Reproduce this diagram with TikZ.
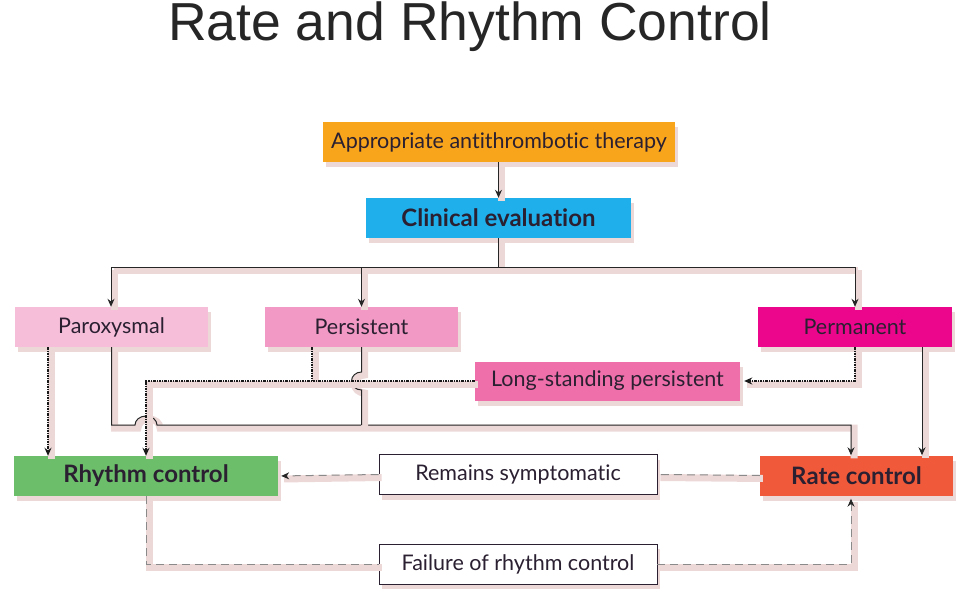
\documentclass[tikz,border=0pt]{standalone}
\usepackage{fontspec}
\setmainfont{Lato}[Ligatures={NoCommon}]
\newfontfamily\titlefont{Liberation Sans}
\usetikzlibrary{arrows.meta,shadows}
\definecolor{corange}{HTML}{F8A51B}
\definecolor{ccyan}{HTML}{1FB0EC}
\definecolor{cparox}{HTML}{F7BEDA}
\definecolor{cpers}{HTML}{F29AC5}
\definecolor{cperm}{HTML}{EC068C}
\definecolor{clong}{HTML}{EE6FAA}
\definecolor{cgreen}{HTML}{6DBE6B}
\definecolor{crate}{HTML}{F05A3B}
\definecolor{ctxt}{HTML}{2A2031}
\definecolor{bshadow}{HTML}{EDD8D8}
\definecolor{cdash}{HTML}{8A8A8A}
\tikzset{
  box/.style={draw=none, minimum height=40pt, inner sep=0pt, text=ctxt,
    font=\fontsize{21.5}{26}\selectfont,
    drop shadow={shadow xshift=3pt, shadow yshift=-5pt, fill=bshadow, opacity=1}},
  boldbox/.style={box, font=\fontsize{24}{28}\selectfont\bfseries},
  wbox/.style={box, fill=white, draw=ctxt, line width=0.8pt},
  lshadow/.style={preaction={draw=bshadow, line width=7pt, solid, arrows=-,
    transform canvas={xshift=3pt,yshift=-3pt}}},
  solidline/.style={draw=black!85, line width=1pt, lshadow},
  tip/.style={-{Stealth[length=8pt,width=7pt]}},
  dtip/.style={-{Stealth[length=8pt,width=7pt,color=black!85]}},
  dotline/.style={draw=black!90, line width=1.3pt, dash pattern=on 2.5pt off 1pt on 1pt off 1pt, lshadow},
  dashline/.style={draw=cdash, line width=1pt, dash pattern=on 8pt off 5pt, lshadow},
}
\begin{document}
\begin{tikzpicture}[x=1pt,y=-1pt]
\useasboundingbox (0,0) rectangle (959,599);
\node[font=\titlefont\fontsize{53.5}{60}\selectfont, text=black!85, anchor=base] (title) at (470,41) {Rate and Rhythm Control};

\node[box, fill=corange, minimum width=352pt] (ant) at (499,142) {Appropriate antithrombotic therapy};
\node[boldbox, fill=ccyan, minimum width=265pt] (clin) at (498.5,218) {Clinical evaluation};
\node[box, fill=cparox, minimum width=193pt] (par) at (111.5,327) {Paroxysmal};
\node[box, fill=cpers, minimum width=193pt] (pers) at (361.5,327) {Persistent};
\node[box, fill=cperm, minimum width=194pt] (perm) at (855,327) {Permanent};
\node[box, fill=clong, minimum width=265pt, minimum height=39pt] (long) at (607.5,381) {Long-standing persistent};
\node[boldbox, fill=cgreen, minimum width=264pt] (rhy) at (146,476) {Rhythm control};
\node[wbox, minimum width=278pt] (rem) at (518,474.5) {Remains symptomatic};
\node[boldbox, fill=crate, minimum width=193pt] (rate) at (856.5,475.5) {Rate control};
\node[wbox, minimum width=278pt] (fail) at (518,564) {Failure of rhythm control};

\coordinate (hl) at (111,267);
\coordinate (hr) at (855,267);
\coordinate (rc) at (851,425);
\coordinate (pdx) at (48,347);
\coordinate (pd) at (312,347);
\coordinate (ps) at (922,347);

% top tree
\draw[solidline, tip] (clin.north |- ant.south) -- (clin.north);
\draw[solidline] (clin.south) -- (clin.south |- hl);
\draw[solidline] (hl) -- (hr);
\draw[solidline, tip] (hl) -- (hl |- par.north);
\draw[solidline, tip] (pers.north |- hl) -- (pers.north);
\draw[solidline, tip] (hr) -- (hr |- perm.north);

% solid paths to rate control
\draw[solidline, tip] (par.south) -- (par.south |- rc) -- ([xshift=-11pt]rhy.north |- rc)
  arc[start angle=180, end angle=360, x radius=11, y radius=9] -- (rc) -- (rc |- rate.north);
\draw[solidline] (pers.south) -- ([yshift=9pt]pers.south |- long.west)
  arc[start angle=270, end angle=90, x radius=10, y radius=9] -- (pers.south |- rc);
\draw[solidline, tip] (ps) -- (ps |- rate.north);

% dotted paths
\draw[dotline, tip] (pdx) -- (pdx |- rhy.north);
\draw[dotline] (pd) -- (pd |- long.west);
\draw[dotline, tip] (long.west) -- (long.west -| rhy.north) -- (rhy.north);
\draw[dotline, tip, shorten >=4pt] (perm.south) -- (perm.south |- long.east) -- (long.east);

% dashed paths
\draw[dashline] (rate.west) -- (rem.east);
\draw[dashline, dtip, shorten >=3pt] (rem.west) -- (rhy.east);
\draw[dashline] (rhy.south) -- (rhy.south |- fail.west) -- (fail.west);
\draw[dashline, dtip, shorten >=3pt] (fail.east) -- (fail.east -| rc) -- (rc |- rate.south);
\end{tikzpicture}
\end{document}
